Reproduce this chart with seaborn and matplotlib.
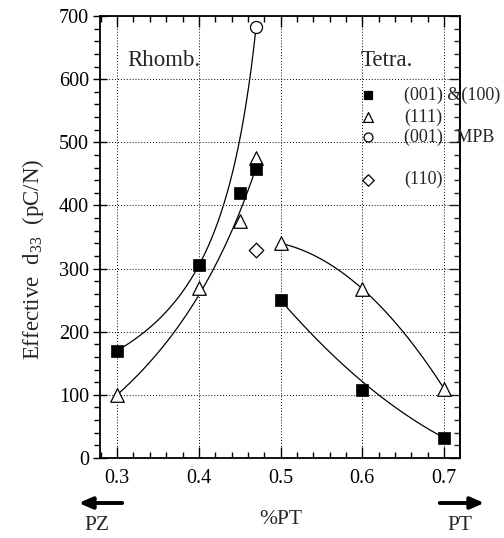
import numpy as np
import pandas as pd
import matplotlib
matplotlib.use("Agg")
import matplotlib.pyplot as plt
import seaborn as sns
from matplotlib.ticker import MultipleLocator

# ---------------- data ----------------
x_sq = [0.3, 0.4, 0.45, 0.47, 0.5, 0.6, 0.7]          # (001) & (100)
y_sq = [170, 305, 420, 458, 250, 108, 32]
x_tri = [0.3, 0.4, 0.45, 0.47, 0.5, 0.6, 0.7]         # (111)
y_tri = [100, 270, 376, 475, 340, 268, 110]
x_circ = [0.47]                                        # (001) MPB
y_circ = [682]
x_dia = [0.47]                                         # (110)
y_dia = [330]

# fit-curve anchors
fit_up_x = [0.3, 0.4, 0.47]
fit_up_y = [170, 305, 682]
fit_lo_x = [0.3, 0.4, 0.47]
fit_lo_y = [100, 258, 460]
fit_tri_x = [0.5, 0.6, 0.7]
fit_tri_y = [340, 268, 110]
fit_sq_x = [0.5, 0.6, 0.7]
fit_sq_y = [250, 121, 32]

legend_labels = ["(001) &(100)", "(111)", "(001)   MPB", "(110)"]
legend_y = [575, 540, 508, 441]
x_ticks = [0.3, 0.4, 0.5, 0.6, 0.7]
y_ticks = [0, 100, 200, 300, 400, 500, 600, 700]

# ---------------- style ----------------
sns.set_style("ticks")
plt.rcParams["font.family"] = ["Liberation Serif", "DejaVu Serif"]
plt.rcParams["mathtext.fontset"] = "stix"

fig = plt.figure(figsize=(5.04, 5.38), dpi=100)
ax = fig.add_axes([100 / 504, 1 - 458 / 538, 360 / 504, 442 / 538])


def hyper(xs, ys, n=300):
    x1, x2, x3 = xs
    y1, y2, y3 = ys
    R = (y1 - y2) / (y2 - y3)
    k = R * (x2 - x3) / (x1 - x2)
    c = (x3 - k * x1) / (1 - k)
    b, a = np.polyfit(1.0 / (c - np.array(xs)), ys, 1)
    xx = np.linspace(x1, x3, n)
    return xx, a + b / (c - xx)


def quad(xs, ys, n=300):
    p = np.polyfit(xs, ys, 2)
    xx = np.linspace(xs[0], xs[-1], n)
    return xx, np.polyval(p, xx)


for fx, fy, f in [(fit_up_x, fit_up_y, hyper), (fit_lo_x, fit_lo_y, hyper),
                  (fit_tri_x, fit_tri_y, quad), (fit_sq_x, fit_sq_y, quad)]:
    xx, yy = f(fx, fy)
    sns.lineplot(x=xx, y=yy, ax=ax, color="black", lw=0.9, sort=False,
                 estimator=None, zorder=2)

sns.scatterplot(x=x_tri, y=y_tri, ax=ax, marker="^", s=95, facecolor="white",
                edgecolor="black", linewidth=0.9, zorder=3)
sns.scatterplot(x=x_sq, y=y_sq, ax=ax, marker="s", s=72, color="black",
                edgecolor="black", linewidth=0.5, zorder=4)
sns.scatterplot(x=x_circ, y=y_circ, ax=ax, marker="o", s=75, facecolor="white",
                edgecolor="black", linewidth=0.9, zorder=3)
sns.scatterplot(x=x_dia, y=y_dia, ax=ax, marker="D", s=55, facecolor="white",
                edgecolor="black", linewidth=0.9, zorder=3)

# legend (manual, inside plot)
leg_markers = [("s", "black", 36), ("^", "white", 50), ("o", "white", 42), ("D", "white", 34)]
for (m, fc, s), ly, lab in zip(leg_markers, legend_y, legend_labels):
    ax.scatter([0.607], [ly], marker=m, s=s, facecolor=fc, edgecolor="black",
               linewidth=0.9, zorder=5, clip_on=False)
    ax.text(0.651, ly, lab, fontsize=13, va="center", ha="left", clip_on=False)

ax.text(0.3125, 630, "Rhomb.", fontsize=16.5, va="center", ha="left")
ax.text(0.5975, 630, "Tetra.", fontsize=16.5, va="center", ha="left")

ax.set_xlim(0.279, 0.7196)
ax.set_ylim(0, 700)
ax.set_xticks(x_ticks)
ax.set_xticklabels([f"{v:.1f}" for v in x_ticks])
ax.set_yticks(y_ticks)
ax.xaxis.set_minor_locator(MultipleLocator(0.02))
ax.yaxis.set_minor_locator(MultipleLocator(20))
ax.grid(True, which="major", color="black", linestyle=(0, (1, 2)), linewidth=0.7)
for s in ax.spines.values():
    s.set_linewidth(1.3)
    s.set_color("black")
ax.tick_params(axis="x", which="both", top=True, bottom=True, direction="in",
               labelsize=14.5, colors="black", width=1.0)
ax.tick_params(axis="x", which="major", length=8, pad=8)
ax.tick_params(axis="x", which="minor", length=4)
ax.tick_params(axis="y", which="both", left=True, right=False, labelsize=14.5,
               colors="black", width=1.0)
ax.tick_params(axis="y", which="major", direction="inout", length=10, pad=3)
ax.tick_params(axis="y", which="minor", direction="out", length=4)

# right-side inward ticks
sec = ax.secondary_yaxis("right")
sec.set_yticks(y_ticks)
sec.yaxis.set_minor_locator(MultipleLocator(20))
sec.tick_params(which="both", direction="in", labelright=False, width=1.0)
sec.tick_params(which="major", length=8)
sec.tick_params(which="minor", length=4)
sec.spines["right"].set_linewidth(1.3)

ax.set_xlabel("")
ax.set_ylabel("Effective  d$_{\\mathregular{33}}$  (pC/N)", fontsize=16.5)
ax.yaxis.set_label_coords(-0.15, 0.45)

# bottom annotations
fig.text(281 / 504, 1 - 520 / 538, "%PT", fontsize=15.5, ha="center", va="center")
fig.text(97 / 504, 1 - 525 / 538, "PZ", fontsize=15.5, ha="center", va="center")
fig.text(460 / 504, 1 - 525 / 538, "PT", fontsize=15.5, ha="center", va="center")
fig.add_artist(matplotlib.patches.FancyArrowPatch((125 / 504, 1 - 503 / 538),
               (76 / 504, 1 - 503 / 538), transform=fig.transFigure,
               arrowstyle="-|>,head_length=8,head_width=3.5", color="black", lw=2.8,
               mutation_scale=1))
fig.add_artist(matplotlib.patches.FancyArrowPatch((437 / 504, 1 - 503 / 538),
               (487 / 504, 1 - 503 / 538), transform=fig.transFigure,
               arrowstyle="-|>,head_length=8,head_width=3.5", color="black", lw=2.8,
               mutation_scale=1))

fig.savefig("out.png", dpi=100)
